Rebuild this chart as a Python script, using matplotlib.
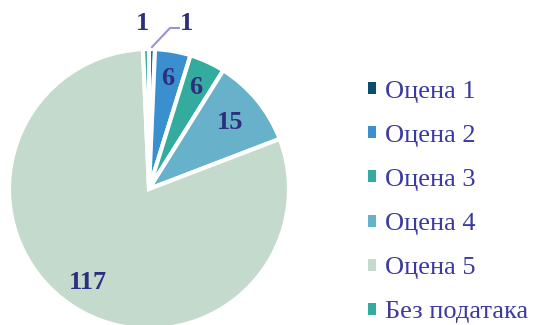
import matplotlib.pyplot as plt
import numpy as np

# Оцене и број одговора
kategorije = ["Оцена 1", "Оцена 2", "Оцена 3", "Оцена 4", "Оцена 5", "Без података"]
vrednosti = [1, 6, 6, 15, 117, 1]
boje = ["#0B4F6C", "#3A8FCF", "#33AB9F", "#67B1CA", "#C3DACD", "#33AB9F"]

plt.rcParams["font.family"] = ["Liberation Serif", "DejaVu Serif"]

fig = plt.figure(figsize=(5.44, 3.25), dpi=100)
ax = fig.add_axes([0, 0, 1, 1])

cx, cy, r = 149, 325 - 189, 140
wedges, _ = ax.pie(vrednosti, colors=boje, startangle=90, counterclock=False,
                   center=(cx, cy), radius=r,
                   wedgeprops=dict(edgecolor="white", linewidth=3))
ax.set_xlim(0, 544)
ax.set_ylim(0, 325)
ax.set_aspect("equal")
ax.axis("off")

boja_teksta = "#2E2E7E"
for w, v in zip(wedges, vrednosti):
    ugao = np.deg2rad((w.theta1 + w.theta2) / 2)
    if v > 2:
        d = 0.8 * r if v != 15 else 0.75 * r
        ax.text(cx + d * np.cos(ugao), cy + d * np.sin(ugao), str(v),
                ha="center", va="center", fontsize=19, fontweight="bold",
                color=boja_teksta)

# мали исечци: ознаке изнад круга
ugao1 = np.deg2rad((wedges[0].theta1 + wedges[0].theta2) / 2)
tacka = (cx + r * np.cos(ugao1), cy + r * np.sin(ugao1))
ax.plot([tacka[0], 170, 179], [tacka[1] + 2, 325 - 28, 325 - 28],
        color="#9A8FE0", lw=1.5)
ax.text(187, 325 - 24, str(vrednosti[0]), ha="center", va="center",
        fontsize=19, fontweight="bold", color=boja_teksta)
ax.text(142, 325 - 24, str(vrednosti[5]), ha="center", va="center",
        fontsize=19, fontweight="bold", color=boja_teksta)

leg = ax.legend(wedges, kategorije, loc="upper left",
                bbox_to_anchor=(357 / 544, 1 - 70 / 325),
                frameon=False, fontsize=19, handlelength=0.33, handleheight=0.33,
                handletextpad=0.33, labelspacing=0.84, borderaxespad=0)
for t in leg.get_texts():
    t.set_color("#3A3AA2")
for h in leg.legend_handles:
    h.set_linewidth(0)

fig.savefig("out.png", dpi=100)
